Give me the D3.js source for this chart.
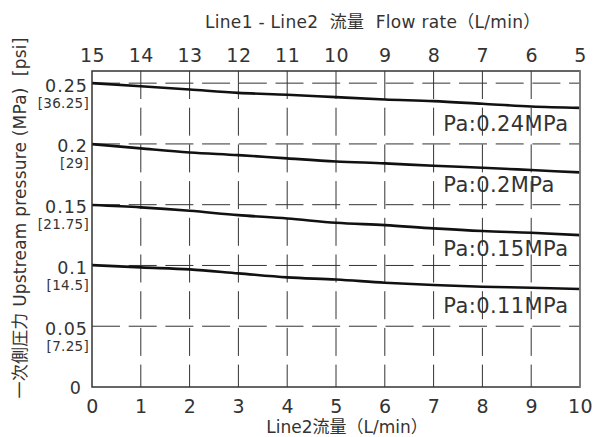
<!DOCTYPE html>
<html><head><meta charset="utf-8">
<script src="https://cdn.jsdelivr.net/npm/d3@7"></script>
<style>body{margin:0;background:#fff} svg{display:block}</style>
</head><body><svg id="c" width="593" height="437"></svg>
<script>
// ---- data ----
const flowLine2 = [0,1,2,3,4,5,6,7,8,9,10];
const topTicks = [15,14,13,12,11,10,9,8,7,6,5];
const yTicks = [0,0.05,0.1,0.15,0.2,0.25];
const yTickLabels = ["0","0.05","0.1","0.15","0.2","0.25"];
const psiLabels = ["","[7.25]","[14.5]","[21.75]","[29]","[36.25]"];
const seriesNames = ["Pa:0.24MPa","Pa:0.2MPa","Pa:0.15MPa","Pa:0.11MPa"];
const pa024 = [0.2500,0.2475,0.2448,0.2420,0.2405,0.2385,0.2366,0.2352,0.2330,0.2308,0.2297];
const pa020 = [0.1998,0.1963,0.1930,0.1908,0.1881,0.1856,0.1840,0.1820,0.1804,0.1785,0.1766];
const pa015 = [0.1497,0.1478,0.1450,0.1414,0.1387,0.1351,0.1332,0.1305,0.1283,0.1269,0.1250];
const pa011 = [0.1003,0.0984,0.0968,0.0935,0.0902,0.0884,0.0858,0.0839,0.0825,0.0817,0.0806];
const series = [pa024, pa020, pa015, pa011];

// ---- layout ----
const L = 92, R = 580, T = 71, B = 387;
const labelDy = [23, 20, 21, 24];
const numFont = "'DejaVu Sans', sans-serif";
const txtFont = "'DejaVu Sans', 'Noto Sans CJK JP', sans-serif";
const ink = "#333";

const svg = d3.select("#c");
const x = d3.scaleLinear().domain([0,10]).range([L,R]);
const xTop = d3.scaleLinear().domain([15,5]).range([L,R]);
const y = d3.scaleLinear().domain([0,0.26]).range([B,T]);

// grid
const grid = svg.append("g").attr("stroke", "#333").attr("stroke-width", 1).attr("stroke-dasharray", "28,8.7");
grid.selectAll("line.v").data(flowLine2.slice(1, -1)).enter().append("line")
  .attr("x1", d => x(d)).attr("x2", d => x(d)).attr("y1", T).attr("y2", B);
grid.selectAll("line.h").data(yTicks.slice(1)).enter().append("line")
  .attr("y1", d => y(d)).attr("y2", d => y(d)).attr("x1", L).attr("x2", R);

// curves
const line = d3.line().x((d,i) => x(flowLine2[i])).y(d => y(d)).curve(d3.curveMonotoneX);
svg.append("g").selectAll("path").data(series).enter().append("path")
  .attr("d", line).attr("fill", "none").attr("stroke", "#111").attr("stroke-width", 2.6);

// frame
svg.append("rect").attr("x", L).attr("y", T).attr("width", R-L).attr("height", B-T)
  .attr("fill", "none").attr("stroke", "#333").attr("stroke-width", 1.5);
svg.append("line").attr("x1", R).attr("x2", R).attr("y1", T).attr("y2", B)
  .attr("stroke", "#888").attr("stroke-width", 1.5);

// bottom axis labels
const ax = svg.append("g").attr("transform", `translate(0,${B})`)
  .call(d3.axisBottom(x).tickValues(flowLine2).tickSize(0).tickPadding(0).tickFormat(d3.format("d")));
ax.select(".domain").remove();
ax.selectAll("text").attr("dy", null).attr("y", 26)
  .attr("font-family", numFont).attr("font-size", 19).attr("fill", ink).attr("letter-spacing", 0.5);

// top axis labels
const at = svg.append("g").attr("transform", `translate(0,${T})`)
  .call(d3.axisTop(xTop).tickValues(topTicks).tickSize(0).tickPadding(0).tickFormat(d3.format("d")));
at.select(".domain").remove();
at.selectAll("text").attr("dy", null).attr("y", -9)
  .attr("font-family", numFont).attr("font-size", 19).attr("fill", ink).attr("letter-spacing", 0.5);

// left axis labels
const al = svg.append("g").attr("transform", `translate(${L},0)`)
  .call(d3.axisLeft(y).tickValues(yTicks).tickSize(0).tickPadding(0).tickFormat((d,i) => yTickLabels[i]));
al.select(".domain").remove();
al.selectAll("text").attr("dy", null)
  .attr("x", d => d === 0 ? -10 : -4).attr("y", d => d === 0 ? 6 : 8)
  .attr("font-family", numFont).attr("font-size", 17.5).attr("fill", ink).attr("letter-spacing", 1);
al.selectAll(".tick").append("text")
  .text((d,i) => psiLabels[i])
  .attr("x", -3).attr("y", 24).attr("text-anchor", "end")
  .attr("font-family", numFont).attr("font-size", 13.5).attr("fill", ink).attr("letter-spacing", 0.3);

// series labels
svg.append("g").selectAll("text").data(series).enter().append("text")
  .attr("x", x(7.2)).attr("y", (d,i) => y(d[d.length-1]) + labelDy[i])
  .text((d,i) => seriesNames[i])
  .attr("font-family", numFont).attr("font-size", 21).attr("fill", ink).attr("letter-spacing", 0.4);

// titles
svg.append("text").attr("x", 205).attr("y", 28)
  .text("Line1 - Line2\u00a0\u00a0流量\u00a0\u00a0Flow rate（L/min）")
  .attr("font-family", txtFont).attr("font-size", 17).attr("fill", ink).attr("letter-spacing", 0.3);
svg.append("text").attr("x", 347).attr("y", 433).attr("text-anchor", "middle")
  .text("Line2流量（L/min）")
  .attr("font-family", txtFont).attr("font-size", 17).attr("fill", ink);
svg.append("text").attr("transform", "translate(26,218) rotate(-90)").attr("text-anchor", "middle")
  .text("一次側圧力 Upstream pressure (MPa)\u00a0\u00a0[psi]")
  .attr("font-family", txtFont).attr("font-size", 17).attr("fill", ink).attr("letter-spacing", 0.2);
</script></body></html>
